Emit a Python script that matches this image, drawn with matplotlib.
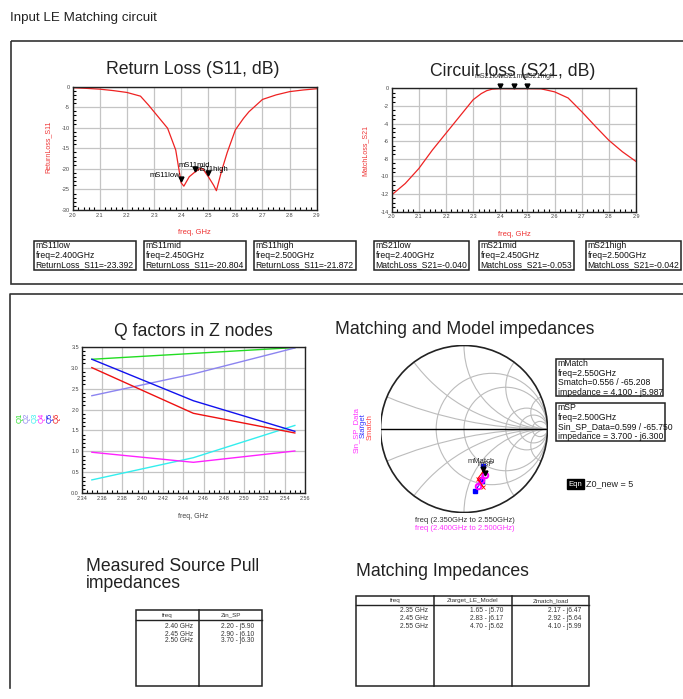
import numpy as np
import matplotlib
matplotlib.use('Agg')
import matplotlib.pyplot as plt
from matplotlib.patches import Rectangle, Circle
from matplotlib.ticker import MultipleLocator, FormatStrFormatter

plt.rcParams['font.family'] = ['Liberation Sans', 'DejaVu Sans']
plt.rcParams['axes.unicode_minus'] = False

W, H = 683, 699

# S11 sweep
s11_freq = [2.0, 2.05, 2.1, 2.15, 2.2, 2.25, 2.28, 2.3, 2.33, 2.35, 2.38, 2.4,
            2.41, 2.43, 2.45, 2.47, 2.48, 2.5, 2.52, 2.53, 2.55, 2.57, 2.6,
            2.63, 2.65, 2.7, 2.75, 2.8, 2.85, 2.9]
s11_db = [-0.25, -0.4, -0.6, -0.95, -1.4, -2.3, -4.5, -6.1, -8.5, -10.1,
          -15.4, -23.392, -24.2, -21.9, -20.804, -19.9, -20.0, -21.872, -24.0,
          -25.3, -20.3, -16.0, -10.5, -7.7, -6.1, -3.1, -2.0, -1.2, -0.8, -0.5]

# S21 sweep
s21_freq = [2.0, 2.05, 2.1, 2.15, 2.2, 2.25, 2.3, 2.33, 2.35, 2.37, 2.4, 2.45,
            2.5, 2.55, 2.6, 2.65, 2.7, 2.75, 2.8, 2.85, 2.9]
s21_db = [-12.1, -10.8, -9.1, -7.0, -5.1, -3.2, -1.3, -0.6, -0.27, -0.1,
          -0.040, -0.053, -0.042, -0.06, -0.4, -1.1, -2.65, -4.3, -5.9, -7.2,
          -8.3]

# markers on the S-parameter plots
mk_freq = [2.40, 2.45, 2.50]
mk_s11 = [-23.392, -20.804, -21.872]
mk_s21 = [-0.040, -0.053, -0.042]
mk_names = ['low', 'mid', 'high']

# Q factors in Z nodes
q_freq = [2.35, 2.45, 2.55]
q_green = [3.20, 3.34, 3.48]
q_lavender = [2.33, 2.85, 3.47]
q_cyan = [0.32, 0.85, 1.62]
q_magenta = [0.98, 0.74, 1.01]
q_blue = [3.20, 2.21, 1.48]
q_red = [3.00, 1.91, 1.44]
q_names = ['Q1', 'Q2', 'Q3', 'Q4', 'Q5', 'Q6']

# impedances
z0_new = 5.0
sp_freq = [2.40, 2.45, 2.50]
zin_sp = [2.20 - 5.90j, 2.90 - 6.10j, 3.70 - 6.30j]
match_freq = [2.35, 2.45, 2.55]
ztarget = [1.65 - 5.70j, 2.83 - 6.17j, 4.70 - 5.62j]
zmatch = [2.17 - 6.47j, 2.92 - 5.64j, 4.10 - 5.99j]
mmatch_z = 4.100 - 5.987j
msp_z = 3.700 - 6.300j


def ax_at(fig, x0, y0, x1, y1):
    return fig.add_axes([x0 / W, 1 - y1 / H, (x1 - x0) / W, (y1 - y0) / H])


def gamma(z):
    z = np.asarray(z)
    return (z - z0_new) / (z + z0_new)


def zstr(z):
    return '%.2f - j%.2f' % (z.real, -z.imag)


def style_axes(ax, xlim, ylim, xmaj, xmin, ymaj, ymin, xfmt, yfmt):
    ax.set_xlim(*xlim)
    ax.set_ylim(*ylim)
    ax.xaxis.set_major_locator(MultipleLocator(xmaj))
    ax.xaxis.set_minor_locator(MultipleLocator(xmin))
    ax.yaxis.set_major_locator(MultipleLocator(ymaj))
    ax.yaxis.set_minor_locator(MultipleLocator(ymin))
    ax.xaxis.set_major_formatter(FormatStrFormatter(xfmt))
    ax.yaxis.set_major_formatter(FormatStrFormatter(yfmt))
    ax.grid(True, which='major', color='#c4c4c4', lw=0.9)
    ax.set_axisbelow(True)
    ax.tick_params(which='both', direction='in', labelsize=4,
                   labelcolor='#444444', top=False, right=False, pad=2)
    ax.tick_params(which='major', length=0)
    ax.tick_params(which='minor', length=2.5, width=0.8)
    for sp in ax.spines.values():
        sp.set_linewidth(1.0)
        sp.set_color('#222222')


def marker_box(ov, x0, y0, x1, y1, lines):
    ov.add_patch(Rectangle((x0, y0), x1 - x0, y1 - y0, fill=False,
                           lw=1.1, ec='#222222'))
    ov.text(x0 + 1.5, y0 + 0.5, '\n'.join(lines), ha='left', va='top',
            fontsize=6.2, linespacing=1.05, color='#111111')


def table(ov, x0, y0, x1, y1, cols, head_y, headers, cells, right_x, row_y):
    ov.add_patch(Rectangle((x0, y0), x1 - x0, y1 - y0, fill=False,
                           lw=1.1, ec='#222222'))
    for cx in cols:
        ov.plot([cx, cx], [y0, y1], color='#222222', lw=1.1)
    ov.plot([x0, x1], [head_y, head_y], color='#222222', lw=1.0)
    edges = [x0] + cols + [x1]
    for i, h in enumerate(headers):
        ov.text((edges[i] + edges[i + 1]) / 2, (y0 + head_y) / 2, h,
                ha='center', va='center', fontsize=4.5, color='#333333')
    for j, col in enumerate(cells):
        for k, s in enumerate(col):
            ov.text(right_x[j], row_y[k], s, ha='right', va='center',
                    fontsize=4.8, color='#333333')


fig = plt.figure(figsize=(W / 100, H / 100), dpi=100)
ov = fig.add_axes([0, 0, 1, 1])
ov.set_xlim(0, W)
ov.set_ylim(H, 0)
ov.axis('off')

# page title and panel frames
ov.text(10, 18, 'Input LE Matching circuit', fontsize=9.6, ha='left',
        va='center', color='#222222')
ov.add_patch(Rectangle((11, 41), 700, 243, fill=False, lw=1.2, ec='#333333'))
ov.plot([10, 10, 700], [688, 294, 294], color='#333333', lw=1.2)

# ---- Return loss ----
ax1 = ax_at(fig, 72.7, 86.7, 316.7, 210)
ax1.plot(s11_freq, s11_db, color='#ee2222', lw=0.9)
style_axes(ax1, (2.0, 2.9), (-30, 0), 0.1, 0.02, 5, 1, '%.1f', '%d')
ax1.plot(mk_freq, np.array(mk_s11) + 0.9, 'v', color='black', ms=3.5)
ax1.text(2.398, -21.6, 'mS11low', fontsize=5.5, ha='right', va='center')
ax1.text(2.45, -19.1, 'mS11mid', fontsize=5.5, ha='center', va='center')
ax1.text(2.45, -20.2, 'mS11high', fontsize=5.5, ha='left', va='center')
ov.text(193, 70, 'Return Loss (S11, dB)', fontsize=12.7, ha='center',
        va='center', color='#222222')
ov.text(48, 147, 'ReturnLoss_S11', fontsize=5, rotation=90, ha='center',
        va='center', color='#ee3333')
ov.text(194, 232, 'freq, GHz', fontsize=5.5, ha='center', va='center',
        color='#ee3333')

# ---- Circuit loss ----
ax2 = ax_at(fig, 391.7, 88.3, 636, 211.7)
ax2.plot(s21_freq, s21_db, color='#ee2222', lw=0.9)
style_axes(ax2, (2.0, 2.9), (-14, 0), 0.1, 0.02, 2, 0.5, '%.1f', '%d')
ax2.plot(mk_freq, np.array(mk_s21) + 0.35, 'v', color='black', ms=3.5,
         clip_on=False)
ov.text(513, 72, 'Circuit loss (S21, dB)', fontsize=12.7, ha='center',
        va='center', color='#222222')
for f, name, dx in zip(mk_freq, mk_names, [-8, 0, 8]):
    ax2.annotate('mS21' + name, (f, 0.6), xytext=(dx, 2),
                 textcoords='offset points', fontsize=5, ha='center',
                 va='bottom', color='#333333', annotation_clip=False)
ov.text(365, 150, 'MatchLoss_S21', fontsize=5, rotation=90, ha='center',
        va='center', color='#ee3333')
ov.text(514, 234, 'freq, GHz', fontsize=5.5, ha='center', va='center',
        color='#ee3333')

# S-parameter marker readouts
for x0, f, v, name in zip([34, 144, 254], mk_freq, mk_s11, mk_names):
    marker_box(ov, x0, 241, x0 + 102, 270,
               ['mS11' + name, 'freq=%.3fGHz' % f,
                'ReturnLoss_S11=%.3f' % v])
for x0, f, v, name in zip([374, 479, 586], mk_freq, mk_s21, mk_names):
    marker_box(ov, x0, 241, x0 + 95, 270,
               ['mS21' + name, 'freq=%.3fGHz' % f,
                'MatchLoss_S21=%.3f' % v])

# ---- Q factors ----
ax3 = ax_at(fig, 81.7, 346.7, 305, 493.3)
q_series = [q_green, q_lavender, q_cyan, q_magenta, q_blue, q_red]
q_colors = ['#22dd22', '#8c84f0', '#33eeee', '#ff22ff', '#1111ee', '#ee1111']
for vals, c in zip(q_series, q_colors):
    ax3.plot(q_freq, vals, color=c, lw=1.0)
style_axes(ax3, (2.34, 2.56), (0, 3.5), 0.02, 0.005, 0.5, 0.1, '%.2f', '%.1f')
ov.text(193, 332, 'Q factors in Z nodes', fontsize=12.7, ha='center',
        va='center', color='#222222')
ov.text(193, 516, 'freq, GHz', fontsize=5, ha='center', va='center',
        color='#444444')
for i, (name, c) in enumerate(zip(q_names, q_colors)):
    ov.text(20 + 7.5 * i, 418, name, fontsize=5.5, rotation=90, ha='center',
            va='center', color=c)

# ---- Smith chart ----
sm = ax_at(fig, 380.5, 345.5, 547.5, 512.5)
sm.set_xlim(-1, 1)
sm.set_ylim(-1, 1)
sm.axis('off')
rim = Circle((0, 0), 1, fill=False, lw=1.2, ec='#222222', zorder=3)
sm.add_patch(rim)
for r in [0.5, 1.0, 3.0, 5.0, 10.0]:
    c = Circle((r / (1 + r), 0), 1 / (1 + r), fill=False, lw=0.8,
               ec='#bcbcbc')
    sm.add_patch(c)
    c.set_clip_path(rim)
for x in [0.2, 0.5, 1.0, 2.0, 5.0, -0.2, -0.5, -1.0, -2.0, -5.0]:
    c = Circle((1, 1 / x), 1 / abs(x), fill=False, lw=0.8, ec='#bcbcbc')
    sm.add_patch(c)
    c.set_clip_path(rim)
sm.plot([-1, 1], [0, 0], color='black', lw=1.0)

g_t = gamma(ztarget)
g_sp = gamma(zin_sp)
g_m = gamma(zmatch)
sm.plot(g_t.real, g_t.imag, color='blue', lw=0.8, marker='s', ms=3)
sm.plot(g_sp.real, g_sp.imag, color='#ff00ff', lw=0.8, marker='o', ms=4,
        mfc='none', mew=1.4)
sm.plot(g_m.real, g_m.imag, color='red', lw=0.8, marker='x', ms=3, mew=0.6)

gm = gamma(mmatch_z)
gs = gamma(msp_z)
sm.plot([gm.real, gs.real], [gm.imag + 0.02, gs.imag + 0.02], 'v',
        color='black', ms=3.5)
sm.annotate('mSP', (gs.real, gs.imag), xytext=(1, 6),
            textcoords='offset points', fontsize=5.5, ha='center',
            color='#333333')
sm.annotate('mMatch', (gm.real, gm.imag), xytext=(-2, 6),
            textcoords='offset points', fontsize=5.5, ha='center',
            color='#333333')

ov.text(335, 330, 'Matching and Model impedances', fontsize=12.7, ha='left',
        va='center', color='#222222')
ov.text(356, 430, 'Sin_SP_Data', fontsize=5.5, rotation=90, ha='center',
        va='center', color='#ff33ff')
ov.text(363, 426, 'Starget', fontsize=5.5, rotation=90, ha='center',
        va='center', color='#3333ff')
ov.text(370, 427, 'Smatch', fontsize=5.5, rotation=90, ha='center',
        va='center', color='#ff4444')
ov.text(465, 521, 'freq (%.3fGHz to %.3fGHz)' % (match_freq[0], match_freq[-1]),
        fontsize=5.5, ha='center', va='center', color='#333333')
ov.text(465, 529, 'freq (%.3fGHz to %.3fGHz)' % (sp_freq[0], sp_freq[-1]),
        fontsize=5.5, ha='center', va='center', color='#ff33ff')

marker_box(ov, 556, 359, 663, 396,
           ['mMatch', 'freq=%.3fGHz' % match_freq[-1],
            'Smatch=%.3f / %.3f' % (abs(gm), np.degrees(np.angle(gm))),
            'impedance = %.3f - j%.3f' % (mmatch_z.real, -mmatch_z.imag)])
marker_box(ov, 556, 403, 665, 441,
           ['mSP', 'freq=%.3fGHz' % sp_freq[-1],
            'Sin_SP_Data=%.3f / %.3f' % (abs(gs), np.degrees(np.angle(gs))),
            'impedance = %.3f - j%.3f' % (msp_z.real, -msp_z.imag)])

ov.add_patch(Rectangle((567, 479), 17, 10, color='black'))
ov.text(575.5, 484, 'Eqn', fontsize=5.5, ha='center', va='center',
        color='white')
ov.text(586, 484, 'Z0_new = %g' % z0_new, fontsize=6.5, ha='left',
        va='center', color='#222222')

# ---- impedance tables ----
ov.text(86, 575, 'Measured Source Pull\nimpedances', fontsize=12.7, ha='left',
        va='center', linespacing=1.0, color='#222222')
table(ov, 136, 610, 262, 686, [199], 620, ['freq', 'Zin_SP'],
      [['%.2f GHz' % f for f in sp_freq], [zstr(z) for z in zin_sp]],
      [193, 254], [627, 634, 641])

ov.text(356, 572, 'Matching Impedances', fontsize=12.7, ha='left',
        va='center', color='#222222')
table(ov, 356, 596, 589, 686, [434, 512], 605,
      ['freq', 'Ztarget_LE_Model', 'Zmatch_load'],
      [['%.2f GHz' % f for f in match_freq], [zstr(z) for z in ztarget],
       [zstr(z) for z in zmatch]],
      [428, 503, 581], [611, 619, 627])

fig.savefig('out.png', dpi=100)
